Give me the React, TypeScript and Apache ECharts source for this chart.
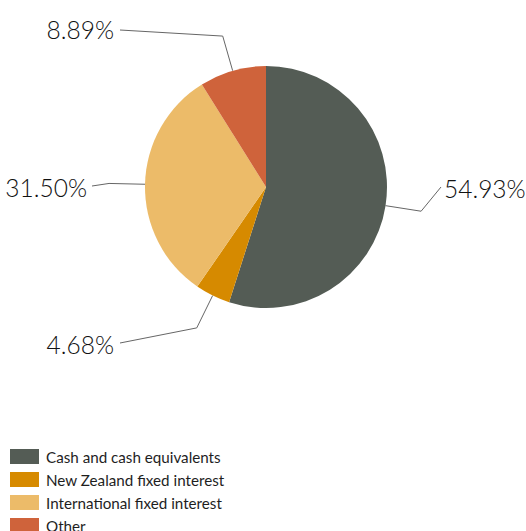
import React, { useEffect, useRef } from "react";
import * as echarts from "echarts";

const categories = [
  "Cash and cash equivalents",
  "New Zealand fixed interest",
  "International fixed interest",
  "Other",
];
const values = [54.93, 4.68, 31.5, 8.89];
const colors = ["#545c55", "#d68a00", "#ecbb69", "#cf633b"];

// label anchor placement (text positions only)
const labelAnchors: { x: number; y: number; align: "left" | "right"; lx: number; ly: number }[] = [
  { x: 444, y: 188, align: "left", lx: 441, ly: 187 },
  { x: 114, y: 344, align: "right", lx: 120, ly: 343 },
  { x: 87, y: 187, align: "right", lx: 92, ly: 186 },
  { x: 114, y: 29, align: "right", lx: 120, ly: 30 },
];

export default function App() {
  const ref = useRef<HTMLDivElement>(null);
  useEffect(() => {
    document.body.style.margin = "0";
    const chart = echarts.init(ref.current!, null, { renderer: "svg" });
    chart.setOption({
      animation: false,
      color: colors,
      legend: {
        orient: "vertical",
        left: 5,
        top: 444,
        height: 140,
        icon: "rect",
        itemWidth: 29,
        itemHeight: 15,
        itemGap: 8,
        textStyle: {
          fontFamily: "Lato",
          fontSize: 15.2,
          color: "#1e1e1e",
          padding: [0, 0, 0, 2],
        },
        data: categories,
      },
      series: [
        {
          type: "pie",
          center: [266, 187],
          radius: 121,
          startAngle: 90,
          clockwise: true,
          data: categories.map((name, i) => ({ name, value: values[i] })),
          itemStyle: { borderWidth: 0 },
          label: {
            show: true,
            position: "outside",
            formatter: (p: any) => Number(p.value).toFixed(2) + "%",
            fontFamily: "Lato",
            fontWeight: 300,
            fontSize: 24.5,
            color: "#111",
            overflow: "none",
          },
          labelLine: {
            show: true,
            length: 36,
            length2: 20,
            lineStyle: { color: "#666", width: 1 },
          },
          emphasis: { disabled: true },
          labelLayout: (params: any) => {
            const a = labelAnchors[params.dataIndex];
            const pts = params.labelLinePoints;
            const out: any = {
              x: a.x,
              y: a.y,
              align: a.align,
              verticalAlign: "middle",
            };
            if (pts && pts.length >= 2) {
              out.labelLinePoints = [pts[0], pts[1], [a.lx, a.ly]];
            }
            return out;
          },
        },
      ],
    });
    return () => chart.dispose();
  }, []);
  return (
    <div
      ref={ref}
      style={{ position: "fixed", left: 0, top: 0, width: 526, height: 531, background: "#fff" }}
    />
  );
}
